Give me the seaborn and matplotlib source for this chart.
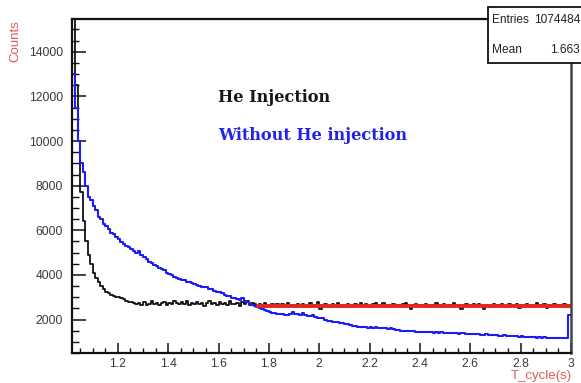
import numpy as np
import pandas as pd
import matplotlib
matplotlib.use("Agg")
import matplotlib.pyplot as plt
import seaborn as sns
from matplotlib.ticker import MultipleLocator, FixedLocator, FixedFormatter
from matplotlib.patches import Rectangle

# ---------------- data ----------------
bin_start = 1.02
bin_width = 0.01

he_counts = [
    16500, 12500, 10000, 7700, 6400, 5500, 4900, 4500, 4100, 3850,
    3700, 3500, 3380, 3250, 3200, 3100, 3050, 3000, 3020, 2950,
    2900, 2850, 2780, 2800, 2720, 2680, 2720, 2650, 2780, 2640,
    2700, 2820, 2680, 2750, 2630, 2720, 2800, 2650, 2760, 2700,
    2850, 2720, 2680, 2780, 2700, 2820, 2650, 2740, 2700, 2800,
    2680, 2760, 2620, 2750, 2830, 2690, 2720, 2650, 2800, 2700,
    2760, 2640, 2820, 2700, 2680, 2750, 2620, 2780, 2700, 2820,
    2650, 2720, 2680, 2600, 2700, 2620, 2720, 2650, 2600, 2700,
    2640, 2700, 2560, 2680, 2620, 2750, 2600, 2660, 2580, 2700,
    2620, 2680, 2550, 2640, 2720, 2600, 2660, 2800, 2450, 2640,
    2700, 2600, 2580, 2680, 2620, 2720, 2560, 2650, 2600, 2700,
    2620, 2550, 2680, 2640, 2750, 2600, 2700, 2620, 2580, 2680,
    2720, 2600, 2640, 2760, 2580, 2660, 2620, 2700, 2600, 2650,
    2580, 2680, 2720, 2620, 2450, 2640, 2700, 2600, 2660, 2620,
    2700, 2580, 2640, 2600, 2720, 2650, 2560, 2680, 2620, 2600,
    2660, 2750, 2600, 2640, 2480, 2620, 2700, 2650, 2580, 2680,
    2620, 2700, 2600, 2480, 2660, 2620, 2580, 2700, 2640, 2600,
    2680, 2620, 2560, 2700, 2640, 2600, 2680, 2500, 2650, 2620,
    2700, 2600, 2660, 2580, 2720, 2640, 2600, 2680, 2520, 2650,
    2620, 2700, 2560, 2660, 2600, 2680, 2620, 2650,
]

no_he_counts = [
    13000, 11500, 10000, 9000, 8600, 8000, 7500, 7350, 7100, 6900,
    6600, 6500, 6300, 6200, 6050, 5900, 5850, 5700, 5600, 5480,
    5400, 5300, 5250, 5150, 5050, 5000, 5080, 4900, 4800, 4700,
    4600, 4550, 4450, 4400, 4300, 4250, 4200, 4080, 4020, 3980,
    3920, 3880, 3820, 3780, 3750, 3700, 3680, 3620, 3600, 3560,
    3520, 3480, 3450, 3440, 3380, 3350, 3300, 3250, 3220, 3180,
    3100, 3060, 3050, 2980, 2950, 2900, 2870, 2950, 2820, 2780,
    2700, 2640, 2600, 2560, 2520, 2480, 2440, 2400, 2350, 2300,
    2280, 2260, 2240, 2250, 2220, 2200, 2230, 2330, 2260, 2240,
    2220, 2280, 2200, 2180, 2160, 2200, 2100, 2080, 2050, 2080,
    1980, 1950, 1920, 1900, 1880, 1870, 1850, 1830, 1810, 1790,
    1760, 1720, 1690, 1660, 1680, 1660, 1650, 1640, 1670, 1630,
    1650, 1620, 1610, 1600, 1630, 1590, 1610, 1560, 1540, 1520,
    1500, 1490, 1480, 1500, 1470, 1480, 1460, 1450, 1440, 1460,
    1430, 1440, 1420, 1410, 1430, 1400, 1420, 1390, 1410, 1400,
    1380, 1400, 1390, 1370, 1380, 1390, 1360, 1370, 1350, 1340,
    1330, 1350, 1320, 1310, 1330, 1300, 1320, 1290, 1300, 1280,
    1270, 1290, 1260, 1250, 1270, 1240, 1250, 1230, 1240, 1220,
    1210, 1230, 1200, 1210, 1190, 1220, 1180, 1200, 1170, 1190,
    1180, 1160, 1170, 1150, 1180, 1160, 1170, 2200,
]

fit_range = [1.755, 3.0]
fit_level = 2600

x_ticks = [1.2, 1.4, 1.6, 1.8, 2.0, 2.2, 2.4, 2.6, 2.8, 3.0]
x_tick_labels = ["1.2", "1.4", "1.6", "1.8", "2", "2.2", "2.4", "2.6", "2.8", "3"]
y_ticks = [2000, 4000, 6000, 8000, 10000, 12000, 14000]
y_tick_labels = ["2000", "4000", "6000", "8000", "10000", "12000", "14000"]

series_names = ["He Injection", "Without He injection"]
stat_labels = ["Entries", "Mean"]
stat_values = ["1074484", "1.663"]

# ---------------- style ----------------
sns.set_theme(style="white")
plt.rcParams["font.family"] = ["Liberation Sans", "DejaVu Sans"]

n = len(he_counts)
edges = [bin_start + bin_width * i for i in range(n + 1)]
centers = [(edges[i] + edges[i + 1]) / 2 for i in range(n)]
df_he = pd.DataFrame({"t": centers, "counts": he_counts})
df_no = pd.DataFrame({"t": centers, "counts": no_he_counts})
df_fit = pd.DataFrame({"t": fit_range, "counts": [fit_level, fit_level]})

W, H = 581, 383
fig = plt.figure(figsize=(W / 100, H / 100), dpi=100)
ax = fig.add_axes([72 / W, 30 / H, 499 / W, 334 / H])

sns.histplot(data=df_he, x="t", weights="counts", bins=edges, element="step",
             fill=False, color="#111111", linewidth=1.3, ax=ax)
sns.histplot(data=df_no, x="t", weights="counts", bins=edges, element="step",
             fill=False, color="#1c1cf5", linewidth=1.5, ax=ax)
sns.lineplot(data=df_fit, x="t", y="counts", color="#e4281f", linewidth=2.8, ax=ax)

ax.set_xlim(1.018, 3.0)
ax.set_ylim(500, 15470)
ax.set_xlabel("")
ax.set_ylabel("")

ax.xaxis.set_major_locator(FixedLocator(x_ticks))
ax.xaxis.set_major_formatter(FixedFormatter(x_tick_labels))
ax.yaxis.set_major_locator(FixedLocator(y_ticks))
ax.yaxis.set_major_formatter(FixedFormatter(y_tick_labels))
ax.xaxis.set_minor_locator(MultipleLocator(0.05))
ax.yaxis.set_minor_locator(MultipleLocator(500))

ax.tick_params(axis="x", which="major", direction="in", length=7, width=1.1,
               color="#111111", labelcolor="#3a3a3a", labelsize=8.7, pad=3.5,
               bottom=True)
ax.tick_params(axis="x", which="minor", direction="in", length=3.6, width=1.0,
               color="#111111", bottom=True)
ax.tick_params(axis="y", which="major", direction="in", length=10, width=1.1,
               color="#111111", labelcolor="#3a3a3a", labelsize=8.7, pad=6.5,
               left=True)
ax.tick_params(axis="y", which="minor", direction="in", length=5, width=1.0,
               color="#111111", left=True)

for side in ["left", "bottom", "top"]:
    ax.spines[side].set_color("#111111")
    ax.spines[side].set_linewidth(1.6)
ax.spines["right"].set_color("#444444")
ax.spines["right"].set_linewidth(1.8)

# axis titles (ROOT style, red)
fig.text(15 / W, 1 - 41 / H, "Counts", rotation=90, color="#e05a5a",
         fontsize=9.5, ha="center", va="center")
fig.text(572 / W, 1 - 376 / H, "T_cycle(s)", color="#e05a5a",
         fontsize=9.5, ha="right", va="center")

# annotations
fig.text(218 / W, 1 - 97 / H, series_names[0], color="#151515",
         fontsize=11.6, fontweight="bold", family=["DejaVu Serif"],
         ha="left", va="center")
fig.text(218 / W, 1 - 135 / H, series_names[1], color="#2323e6",
         fontsize=11.6, fontweight="bold", family=["DejaVu Serif"],
         ha="left", va="center")

# stat box
box = Rectangle((488 / W, 1 - 63 / H), 0.2, 56 / H, transform=fig.transFigure,
                facecolor="white", edgecolor="#111111", linewidth=1.3,
                zorder=10, clip_on=False)
fig.add_artist(box)
for i, (lab, val) in enumerate(zip(stat_labels, stat_values)):
    yy = 1 - (20 + 30 * i) / H
    fig.text(492 / W, yy, lab, fontsize=8.6, color="#222222", ha="left",
             va="center", zorder=11)
    fig.text(580 / W, yy, val, fontsize=8.6, color="#222222", ha="right",
             va="center", zorder=11)

fig.savefig("out.png", dpi=100)
